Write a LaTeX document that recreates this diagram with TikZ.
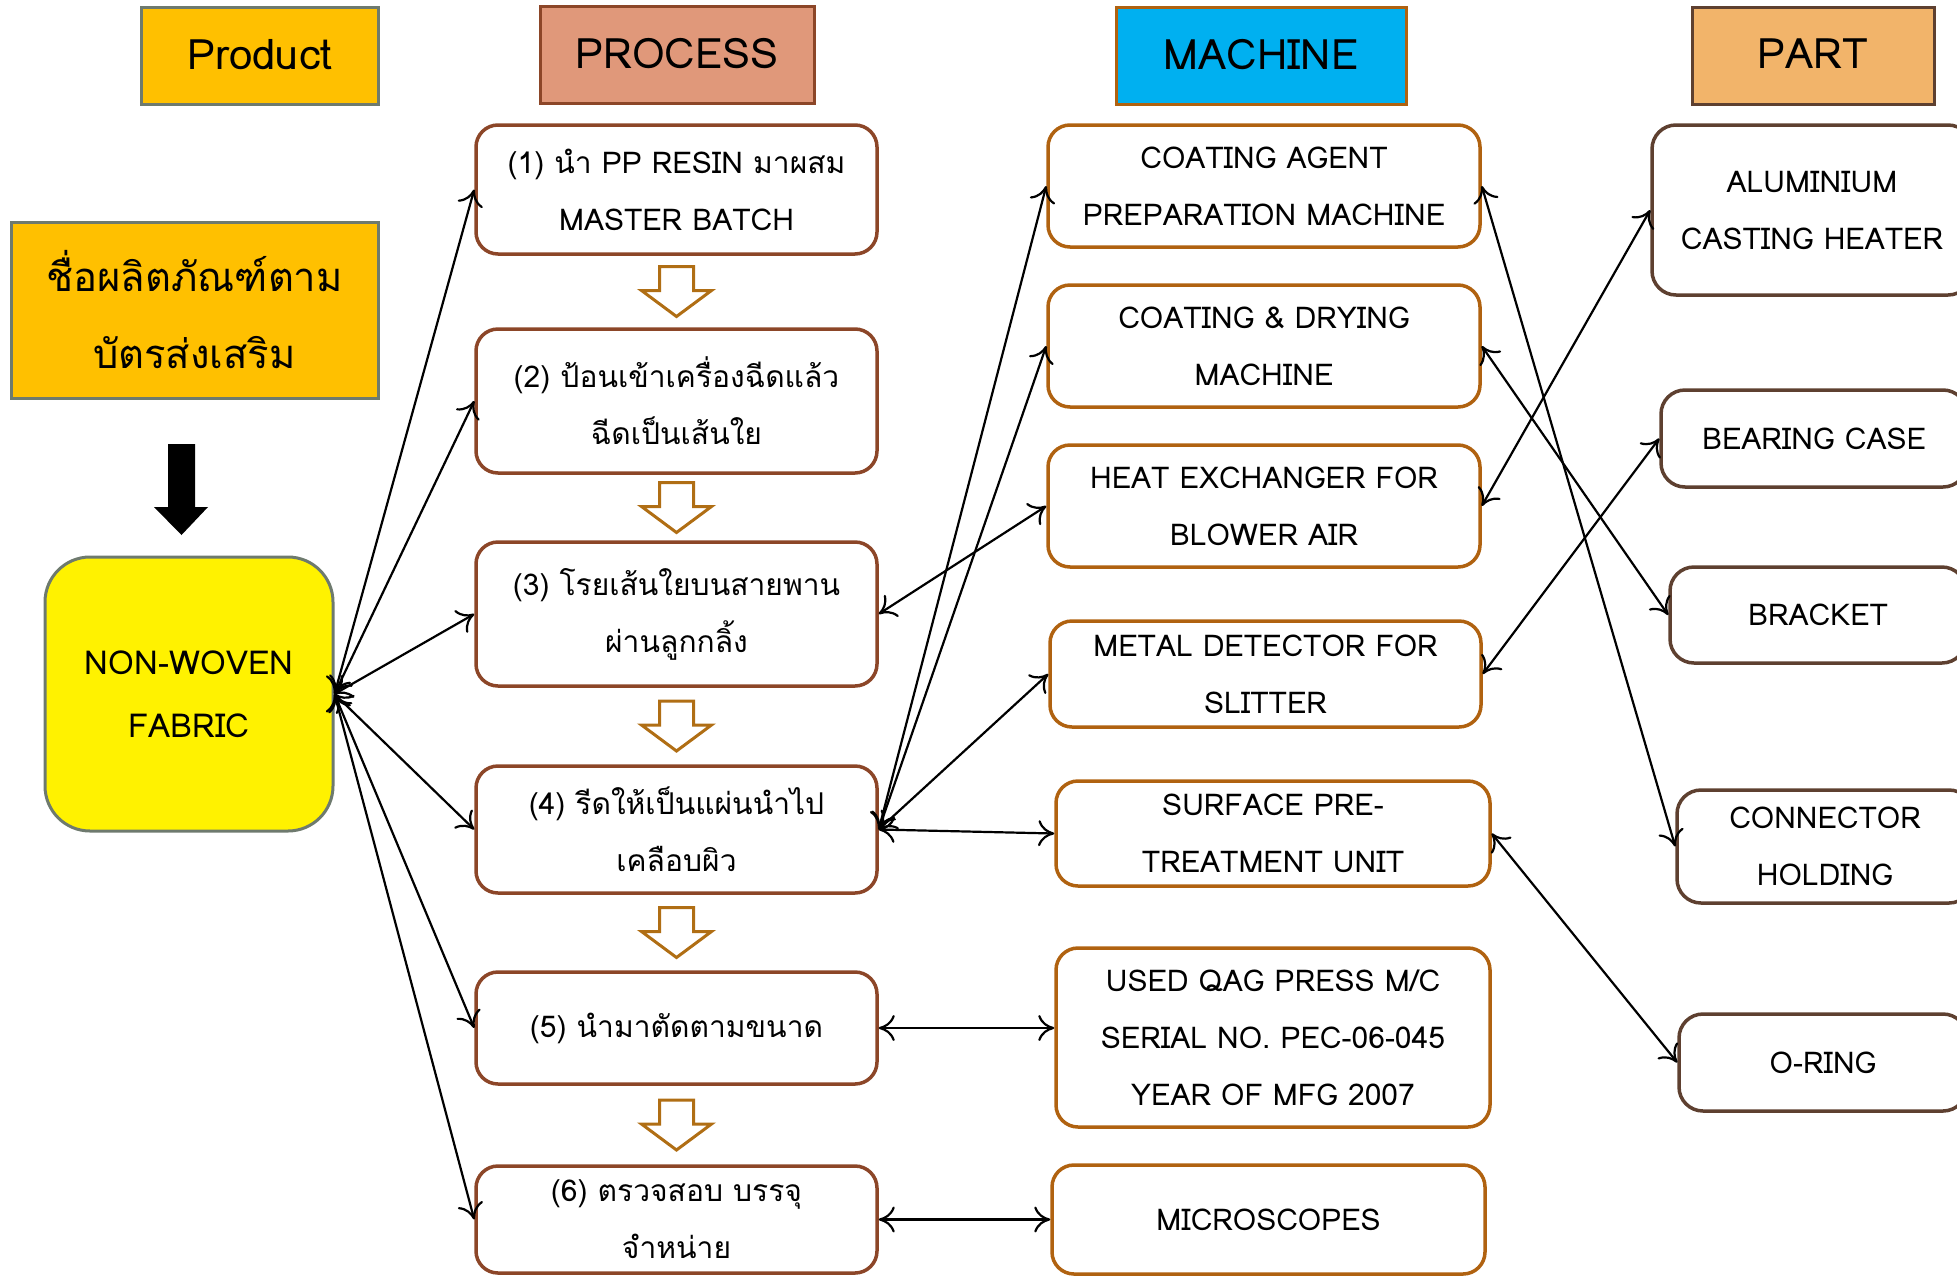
\documentclass[tikz,border=0pt]{standalone}
\usepackage{fontspec}
\setmainfont{Loma}[Script=Thai]
\usetikzlibrary{arrows.meta}
\usetikzlibrary{calc}

\definecolor{prodfill}{RGB}{255,192,0}
\definecolor{grayedge}{RGB}{110,122,110}
\definecolor{procfill}{RGB}{224,152,122}
\definecolor{procedge}{RGB}{140,70,40}
\definecolor{machfill}{RGB}{0,176,240}
\definecolor{machedge}{RGB}{176,98,16}
\definecolor{partfill}{RGB}{242,180,106}
\definecolor{partedge}{RGB}{94,64,48}
\definecolor{hollowedge}{RGB}{176,110,20}

\newcommand{\headfont}{\fontsize{42}{50}\selectfont}
\newcommand{\boxfont}{\fontsize{30}{57}\selectfont}

\begin{document}
\begin{tikzpicture}[x=1pt, y=-1pt,
        every node/.style={align=center, inner sep=0pt},
        header/.style={rectangle, line width=3pt, minimum height=97pt, font=\headfont},
        procbox/.style={rectangle, rounded corners=22pt, draw=procedge, line width=3.5pt, fill=white, minimum width=401pt, font=\boxfont},
        machbox/.style={rectangle, rounded corners=22pt, draw=machedge, line width=3.5pt, fill=white, font=\boxfont},
        partbox/.style={rectangle, rounded corners=24pt, draw=partedge, line width=3.5pt, fill=white, font=\boxfont},
        link/.style={{To[length=16pt,width=26pt]}-{To[length=16pt,width=26pt]}, line width=2.2pt},
        hollow/.style={draw=hollowedge, line width=3pt, fill=white}]
\useasboundingbox (0,0) rectangle (1957,1275);
\clip (0,0) rectangle (1957,1275);

% column headers
\node[header, fill=prodfill, draw=grayedge, minimum width=237pt] (hprod) at (259.5,55.5) {\raisebox{3pt}{Product}};
\node[header, fill=procfill, draw=procedge, minimum width=274pt] (hproc) at (677,54.5) {\raisebox{3pt}{PROCESS}};
\node[header, fill=machfill, draw=machedge, minimum width=290pt] (hmach) at (1261,55.5) {\raisebox{3pt}{MACHINE}};
\node[header, fill=partfill, draw=partedge, minimum width=242pt] (hpart) at (1813,55.5) {\raisebox{3pt}{PART}};

% product
\node[rectangle, fill=prodfill, draw=grayedge, line width=3pt, minimum width=367pt, minimum height=176pt,
      font=\fontsize{40}{77}\selectfont] (thai) at (194.5,310) {ชื่อผลิตภัณฑ์ตาม\\บัตรส่งเสริม};
\fill (168,444) -- (195,444) -- (195,507) -- (208,507) -- (181.5,535) -- (154,507) -- (168,507) -- cycle;
\node[rectangle, rounded corners=45pt, fill=yellow, draw=grayedge, line width=3pt, minimum width=288pt, minimum height=274pt,
      font=\fontsize{33}{63}\selectfont] (fabric) at (189,694) {NON-WOVEN\\FABRIC};

% process steps
\node[procbox, minimum height=129pt] (s1) at (676.5,189.5) {(1) นำ PP RESIN มาผสม\\MASTER BATCH};
\node[procbox, minimum height=144pt] (s2) at (676.5,401) {(2) ป้อนเข้าเครื่องฉีดแล้ว\\ฉีดเป็นเส้นใย};
\node[procbox, minimum height=144pt] (s3) at (676.5,614) {(3) โรยเส้นใยบนสายพาน\\ผ่านลูกกลิ้ง};
\node[procbox, minimum height=127pt] (s4) at (676.5,829.5) {(4) รีดให้เป็นแผ่นนำไป\\เคลือบผิว};
\node[procbox, minimum height=112pt] (s5) at (676.5,1028) {(5) นำมาตัดตามขนาด};
\node[procbox, minimum height=107pt] (s6) at (676.5,1219.5) {(6) ตรวจสอบ บรรจุ\\จำหน่าย};

\foreach \a/\b in {s1/s2, s2/s3, s3/s4, s4/s5, s5/s6}
  \draw[hollow, shift={($(\a.south)!0.5!(\b.north)$)}]
    (-17,-25) -- (17,-25) -- (17,-1) -- (35,-1) -- (0,25) -- (-35,-1) -- (-17,-1) -- cycle;

% machines
\node[machbox, minimum width=432pt, minimum height=122pt] (m1) at (1264,186) {COATING AGENT\\PREPARATION MACHINE};
\node[machbox, minimum width=432pt, minimum height=122pt] (m2) at (1264,346) {COATING \& DRYING\\MACHINE};
\node[machbox, minimum width=432pt, minimum height=122pt] (m3) at (1264,506) {HEAT EXCHANGER FOR\\BLOWER AIR};
\node[machbox, minimum width=431pt, minimum height=106pt] (m4) at (1265.5,674) {METAL DETECTOR FOR\\SLITTER};
\node[machbox, minimum width=434pt, minimum height=105pt] (m5) at (1273,833.5) {SURFACE PRE-\\TREATMENT UNIT};
\node[machbox, minimum width=434pt, minimum height=179pt] (m6) at (1273,1037.5) {USED QAG PRESS M/C\\SERIAL NO. PEC-06-045\\YEAR OF MFG 2007};
\node[machbox, minimum width=433pt, minimum height=109pt] (m7) at (1268.5,1219.5) {MICROSCOPES};

% parts
\node[partbox, minimum width=320pt, minimum height=170pt] (q1) at (1812,210) {ALUMINIUM\\CASTING HEATER};
\node[partbox, minimum width=306pt, minimum height=97pt] (q2) at (1814,438.5) {BEARING CASE};
\node[partbox, minimum width=296pt, minimum height=96pt] (q3) at (1818,615) {BRACKET};
\node[partbox, minimum width=296pt, minimum height=113pt] (q4) at (1825,846.5) {CONNECTOR\\HOLDING};
\node[partbox, minimum width=288pt, minimum height=97pt] (q5) at (1823,1062.5) {O-RING};

% product -- process
\draw[link] (fabric.east) -- (s1.west);
\draw[link] (fabric.east) -- (s2.west);
\draw[link] (fabric.east) -- (s3.west);
\draw[link] (fabric.east) -- (s4.west);
\draw[link] (fabric.east) -- (s5.west);
\draw[link] (fabric.east) -- (s6.west);

% process -- machine
\draw[link] (s4.east) -- (m1.west);
\draw[link] (s4.east) -- (m2.west);
\draw[link] (s3.east) -- (m3.west);
\draw[link] (s4.east) -- (m4.west);
\draw[link] (s4.east) -- (m5.west);
\draw[link] (s5.east) -- (s5.east -| m6.west);
\draw[link] (s6.east) -- (m7.west);

% machine -- part
\draw[link] (m1.east) -- (q4.west);
\draw[link] (m2.east) -- (q3.west);
\draw[link] (m3.east) -- (q1.west);
\draw[link] (m4.east) -- (q2.west);
\draw[link] (m5.east) -- (q5.west);
\end{tikzpicture}
\end{document}
